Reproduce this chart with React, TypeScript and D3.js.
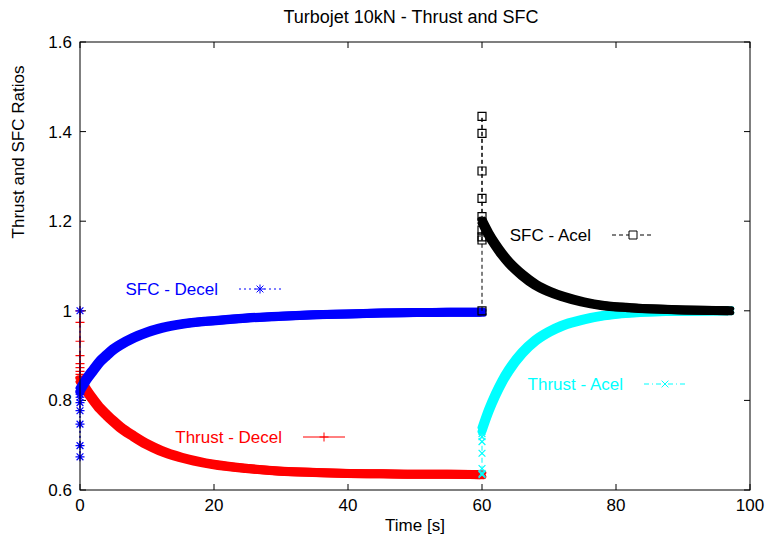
import React from 'react';
import * as d3 from 'd3';

// deceleration run (t = 0 .. 60 s)
const decelTimes = [0, 1, 2, 3, 4, 5, 6, 8, 10, 12, 15, 20, 25, 30, 35, 40, 45, 50, 55, 60];
const thrustDecel = [0.846, 0.822, 0.801, 0.782, 0.767, 0.753, 0.74, 0.72, 0.702, 0.688, 0.673, 0.657, 0.648, 0.642, 0.639, 0.637, 0.636, 0.635, 0.635, 0.634];
const sfcDecel = [0.823, 0.848, 0.868, 0.887, 0.901, 0.914, 0.924, 0.94, 0.952, 0.961, 0.97, 0.978, 0.984, 0.988, 0.991, 0.993, 0.995, 0.996, 0.997, 0.997];

// acceleration run (t = 60 .. 97 s)
const acelTimes = [60, 61, 62, 63, 64, 66, 68, 70, 72, 75, 78, 82, 86, 90, 97];
const thrustAcel = [0.735, 0.777, 0.812, 0.842, 0.867, 0.906, 0.934, 0.953, 0.967, 0.98, 0.989, 0.995, 0.998, 0.999, 1.0];
const sfcAcel = [1.2, 1.171, 1.147, 1.126, 1.108, 1.08, 1.058, 1.043, 1.032, 1.02, 1.012, 1.007, 1.004, 1.002, 1.0];

// fast transient samples at the step instant
const thrustDecelStep = [1.0, 0.974, 0.932, 0.9, 0.882, 0.873, 0.865, 0.858, 0.852, 0.848];
const sfcDecelStep = [1.0, 0.674, 0.699, 0.747, 0.777, 0.795, 0.807, 0.814, 0.819, 0.822];
const sfcAcelStep = [1.0, 1.434, 1.396, 1.312, 1.251, 1.21, 1.18, 1.165, 1.158];
const thrustAcelStep = [0.634, 0.637, 0.648, 0.682, 0.708, 0.719, 0.726, 0.731];

const xTicks = [0, 20, 40, 60, 80, 100];
const yTicks = [0.6, 0.8, 1, 1.2, 1.4, 1.6];

const W = 766;
const H = 537;
const margin = { top: 42, right: 16, bottom: 47, left: 80 };
const FONT = '"Liberation Sans", Arial, Helvetica, sans-serif';
const FS = 17;

type Marker = 'plus' | 'star' | 'square' | 'cross';

const series = [
  { name: 'Thrust - Decel', color: '#ff0000', dash: 'none', marker: 'plus' as Marker, stepT: 0, step: thrustDecelStep, t: decelTimes, v: thrustDecel, key: [282, 437] },
  { name: 'SFC - Decel', color: '#0000ff', dash: '2,3', marker: 'star' as Marker, stepT: 0, step: sfcDecelStep, t: decelTimes, v: sfcDecel, key: [218, 289] },
  { name: 'Thrust - Acel', color: '#00ffff', dash: '5,3,1,3', marker: 'cross' as Marker, stepT: 60, step: thrustAcelStep, t: acelTimes, v: thrustAcel, key: [623, 384] },
  { name: 'SFC - Acel', color: '#000000', dash: '4,3', marker: 'square' as Marker, stepT: 60, step: sfcAcelStep, t: acelTimes, v: sfcAcel, key: [591, 235] },
];

// the dense points smear into a band, like a square pen dragged along the curve
const penOffsets = [[-2, -2], [2, -2], [-2, 2], [2, 2]];

const markerPath = (m: Marker) => {
  const s = 4.5;
  const d = 3.4;
  if (m === 'plus') return `M${-s},0H${s}M0,${-s}V${s}`;
  if (m === 'cross') return `M${-d},${-d}L${d},${d}M${-d},${d}L${d},${-d}`;
  if (m === 'star') return `M${-s},0H${s}M0,${-s}V${s}M${-d},${-d}L${d},${d}M${-d},${d}L${d},${-d}`;
  return 'M-4,-4H4V4H-4Z';
};

export default function App() {
  const x = d3.scaleLinear().domain([0, 100]).range([margin.left, W - margin.right]);
  const y = d3.scaleLinear().domain([0.6, 1.6]).range([H - margin.bottom, margin.top]);
  const x0 = x.range()[0];
  const x1 = x.range()[1];
  const y0 = y.range()[0];
  const y1 = y.range()[1];

  const thin = d3.line<[number, number]>().x(d => x(d[0])).y(d => y(d[1]));
  const band = d3.line<[number, number]>().x(d => x(d[0])).y(d => y(d[1])).curve(d3.curveMonotoneX);

  return (
    <svg width={W} height={H} style={{ position: 'absolute', left: 0, top: 0, background: '#fff' }} fontFamily={FONT} fontSize={FS}>
      <rect x={0} y={0} width={W} height={H} fill="#fff" />
      <text x={411} y={23} textAnchor="middle" fontSize={18}>Turbojet 10kN - Thrust and SFC</text>

      {/* ticks, mirrored and inward like gnuplot */}
      {xTicks.map(t => (
        <g key={'x' + t}>
          <line x1={x(t)} x2={x(t)} y1={y0} y2={y0 - 6} stroke="#000" />
          <line x1={x(t)} x2={x(t)} y1={y1} y2={y1 + 6} stroke="#000" />
          <text x={x(t)} y={y0 + 21} textAnchor="middle">{t}</text>
        </g>
      ))}
      {yTicks.map(v => (
        <g key={'y' + v}>
          <line x1={x0} x2={x0 + 6} y1={y(v)} y2={y(v)} stroke="#000" />
          <line x1={x1} x2={x1 - 6} y1={y(v)} y2={y(v)} stroke="#000" />
          <text x={x0 - 8} y={y(v) + 6} textAnchor="end">{String(v)}</text>
        </g>
      ))}
      <text x={(x0 + x1) / 2} y={531} textAnchor="middle">Time [s]</text>
      <text transform={`translate(24,152) rotate(-90)`} textAnchor="middle">Thrust and SFC Ratios</text>

      {series.map(s => {
        const pts: [number, number][] = s.t.map((t, i) => [t, s.v[i]]);
        const stepPts: [number, number][] = s.step.map(v => [s.stepT, v]);
        const d = band(pts) || '';
        return (
          <g key={s.name}>
            {penOffsets.map((o, i) => (
              <path key={i} d={d} transform={`translate(${o[0]},${o[1]})`} fill="none" stroke={s.color} strokeWidth={5} strokeLinecap="round" />
            ))}
            <path d={thin(stepPts.concat(pts.slice(0, 1))) || ''} fill="none" stroke={s.color} strokeWidth={1} strokeDasharray={s.dash} />
            {stepPts.map((p, i) => (
              <path key={i} d={markerPath(s.marker)} transform={`translate(${x(p[0])},${y(p[1])})`} fill="none" stroke={s.color} strokeWidth={1.2} />
            ))}
            <text x={s.key[0]} y={s.key[1] + 6} textAnchor="end" fill={s.color}>{s.name}</text>
            <line x1={s.key[0] + 21} x2={s.key[0] + 63} y1={s.key[1]} y2={s.key[1]} stroke={s.color} strokeDasharray={s.dash} />
            <path d={markerPath(s.marker)} transform={`translate(${s.key[0] + 42},${s.key[1]})`} fill={s.marker === 'square' ? '#fff' : 'none'} stroke={s.color} />
          </g>
        );
      })}

      <rect x={x0} y={y1} width={x1 - x0} height={y0 - y1} fill="none" stroke="#000" />
    </svg>
  );
}
